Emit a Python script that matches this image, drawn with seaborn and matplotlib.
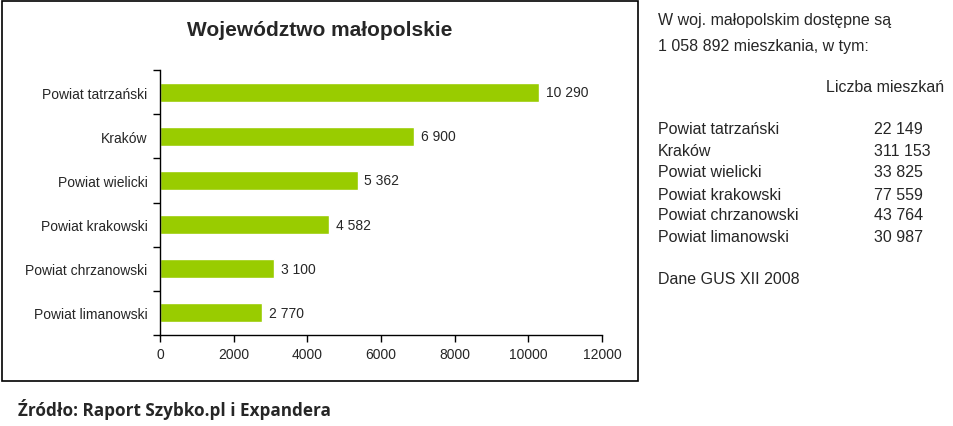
import matplotlib
matplotlib.use("Agg")
import matplotlib.pyplot as plt
import seaborn as sns
import pandas as pd
import numpy as np
from matplotlib.patches import Rectangle

categories = ["Powiat tatrzański", "Kraków", "Powiat wielicki", "Powiat krakowski",
              "Powiat chrzanowski", "Powiat limanowski"]
values = [10290, 6900, 5362, 4582, 3100, 2770]
value_labels = ["10 290", "6 900", "5 362", "4 582", "3 100", "2 770"]
x_ticks = [0, 2000, 4000, 6000, 8000, 10000, 12000]

table_names = ["Powiat tatrzański", "Kraków", "Powiat wielicki", "Powiat krakowski",
               "Powiat chrzanowski", "Powiat limanowski"]
table_values = ["22 149", "311 153", "33 825", "77 559", "43 764", "30 987"]

sns.set_style("white")
plt.rcParams['font.family'] = ['Liberation Sans', 'DejaVu Sans']

W, H = 954, 427
fig = plt.figure(figsize=(W / 100, H / 100), dpi=100)

def fx(px):
    return px / W

def fy(py):
    return 1 - py / H

ax = fig.add_axes([fx(160), fy(336), fx(602) - fx(160), fy(71) - fy(336)])
df = pd.DataFrame({"cat": categories, "val": values})
sns.barplot(data=df, x="val", y="cat", orient="h", color="#99CC00", saturation=1,
            width=0.43, ax=ax)
ax.set_xlim(0, 12000)
ax.set_ylim(5.5, -0.5)
ax.set_xticks(x_ticks)
ax.set_xticklabels([str(t) for t in x_ticks], fontsize=10)
ax.set_xlabel("")
ax.set_ylabel("")
ax.tick_params(axis="x", which="major", bottom=True, direction="out", length=5, width=1,
               color="black", pad=4)
ax.tick_params(axis="y", which="major", left=True, length=0, pad=9, labelsize=10)
ax.set_yticks(np.arange(-0.5, 6, 1), minor=True)
ax.tick_params(axis="y", which="minor", left=True, direction="out", length=5, width=1,
               color="black")
for s in ["top", "right"]:
    ax.spines[s].set_visible(False)
for s in ["left", "bottom"]:
    ax.spines[s].set_color("black")
    ax.spines[s].set_linewidth(1)

for i, (v, lab) in enumerate(zip(values, value_labels)):
    ax.annotate(lab, xy=(v, i), xytext=(5, 0), textcoords="offset points",
                va="center", ha="left", fontsize=10)

# outer frame
fig.patches.append(Rectangle((fx(2), fy(382)), fx(638) - fx(2), fy(2) - fy(382),
                             transform=fig.transFigure, fill=False, edgecolor="black",
                             linewidth=1.2))

fig.text(fx(320), fy(31), "Województwo małopolskie", ha="center", va="center",
         fontsize=15, fontweight="bold")

fig.text(fx(18), fy(410), "Źródło: Raport Szybko.pl i Expandera", ha="left", va="center",
         fontsize=12.3, fontweight="bold", family=['Open Sans', 'DejaVu Sans'])

# right-side text
fs = 11.5
fig.text(fx(658), fy(21), "W woj. małopolskim dostępne są", ha="left", va="center", fontsize=fs)
fig.text(fx(658), fy(46), "1 058 892 mieszkania, w tym:", ha="left", va="center", fontsize=fs)
fig.text(fx(944), fy(88), "Liczba mieszkań", ha="right", va="center", fontsize=fs)
row_y = [130, 152, 173, 195, 216, 238]
for y, n, v in zip(row_y, table_names, table_values):
    fig.text(fx(658), fy(y), n, ha="left", va="center", fontsize=fs)
    fig.text(fx(874), fy(y), v, ha="left", va="center", fontsize=fs)
fig.text(fx(658), fy(280), "Dane GUS XII 2008", ha="left", va="center", fontsize=fs)

fig.savefig("out.png", dpi=100, facecolor="white")
